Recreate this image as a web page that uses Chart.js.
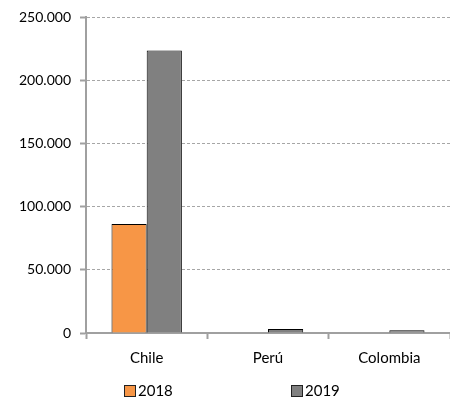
<!DOCTYPE html>
<html>
<head>
<meta charset="utf-8">
<script src="https://cdn.jsdelivr.net/npm/chart.js@4/dist/chart.umd.min.js"></script>
<style>
  body { margin: 0; background: #fff; }
  #wrap { position: relative; width: 450px; height: 398px; }
  #legend { position: absolute; left: 0; top: 381px; width: 450px; font: 15px Lato, sans-serif; color: #000; }
  #legend span.item { position: absolute; top: 0; white-space: nowrap; }
  #legend i { display: inline-block; width: 10px; height: 10px; border: 1px solid #222; vertical-align: -1px; margin-right: 2px; }
</style>
</head>
<body>
<div id="wrap">
  <canvas id="myChart" width="450" height="398"></canvas>
  <div id="legend"></div>
</div>
<script>
var ctx = document.getElementById('myChart').getContext('2d');

const paises = ['Chile', 'Perú', 'Colombia'];
const anios = ['2018', '2019'];
const valores2018 = [86300, 0, 0];
const valores2019 = [223800, 3200, 2200];
const colores = ['#F79646', '#808080'];

function miles(v) {
    return String(v).replace(/\B(?=(\d{3})+(?!\d))/g, '.');
}

var myChart = new Chart(ctx, {
    type: 'bar',
    data: {
        labels: paises,
        datasets: [{
            label: anios[0],
            data: valores2018,
            backgroundColor: colores[0],
            borderColor: '#000',
            borderWidth: 1
        }, {
            label: anios[1],
            data: valores2019,
            backgroundColor: colores[1],
            borderColor: '#000',
            borderWidth: 1
        }]
    },
    options: {
        responsive: false,
        animation: false,
        categoryPercentage: 0.58,
        barPercentage: 1,
        layout: { padding: { top: 3, left: 10, right: 0, bottom: 21 } },
        plugins: {
            legend: { display: false },
            tooltip: { enabled: false }
        },
        scales: {
            y: {
                min: 0,
                max: 250000,
                ticks: {
                    stepSize: 50000,
                    padding: 9,
                    color: '#000',
                    font: { family: 'Lato', size: 14 },
                    callback: function (v) { return miles(v); }
                },
                grid: {
                    color: '#a6a6a6',
                    tickLength: 6,
                    tickColor: '#a0a0a0',
                    tickBorderDash: [],
                    tickWidth: 2
                },
                border: { color: '#a0a0a0', width: 2, dash: [3, 2] }
            },
            x: {
                ticks: {
                    padding: 10,
                    color: '#000',
                    font: { family: 'Lato', size: 15 }
                },
                grid: {
                    offset: true,
                    drawOnChartArea: false,
                    tickLength: 6,
                    tickColor: '#a0a0a0',
                    tickWidth: 2
                },
                border: { color: '#a0a0a0', width: 2 }
            }
        }
    }
});

/* leyenda abajo, como en el original */
var leg = document.getElementById('legend');
var posLeyenda = [124, 291];
anios.forEach(function (a, i) {
    var s = document.createElement('span');
    s.className = 'item';
    s.style.left = posLeyenda[i] + 'px';
    s.innerHTML = '<i style="background:' + colores[i] + '"></i>' + a;
    leg.appendChild(s);
});
</script>
</body>
</html>
